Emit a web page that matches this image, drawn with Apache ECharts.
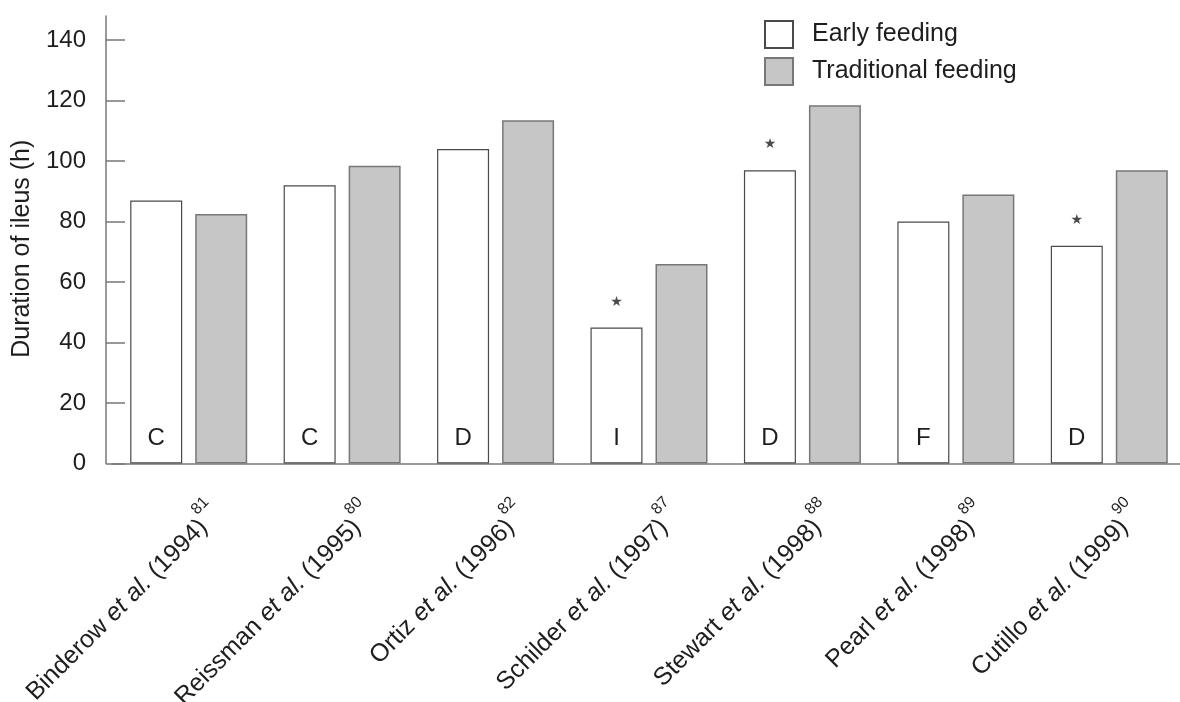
<!DOCTYPE html>
<html>
<head>
<meta charset="utf-8">
<script src="https://cdn.jsdelivr.net/npm/echarts@6/dist/echarts.min.js"></script>
<style>html,body{margin:0;padding:0;background:#fff;}#c{width:1180px;height:702px;}</style>
</head>
<body>
<div id="c"></div>
<script>
var authors = ['Binderow', 'Reissman', 'Ortiz', 'Schilder', 'Stewart', 'Pearl', 'Cutillo'];
var years = ['1994', '1995', '1996', '1997', '1998', '1998', '1999'];
var refs = ['81', '80', '82', '87', '88', '89', '90'];
var earlyFeeding = [87, 92, 104, 45, 97, 80, 72];
var traditionalFeeding = [82.5, 98.5, 113.5, 66, 118.5, 89, 97];
var studyType = ['C', 'C', 'D', 'I', 'D', 'F', 'D'];
var significant = [false, false, false, true, true, false, true];
var yTicks = [0, 20, 40, 60, 80, 100, 120, 140];
var seriesNames = ['Early feeding', 'Traditional feeding'];
var yAxisTitle = 'Duration of ileus (h)';

var FONT = '"Liberation Sans", Arial, Helvetica, sans-serif';
var TXT = '#1e1e1e';
var categories = authors.map(function (a, i) { return a + ' (' + years[i] + ')'; });

var starData = [];
significant.forEach(function (s, i) { if (s) starData.push([i, earlyFeeding[i]]); });

var chart = echarts.init(document.getElementById('c'), null, { renderer: 'canvas' });
chart.setOption({
  animation: false,
  backgroundColor: '#fff',
  grid: { left: 112, top: 16, width: 1074, bottom: 238.5, containLabel: false, outerBoundsMode: 'none' },
  legend: {
    data: seriesNames,
    icon: 'rect',
    orient: 'vertical',
    left: 764, top: 20, padding: 0,
    itemWidth: 28, itemHeight: 27, itemGap: 8,
    textStyle: { fontFamily: FONT, fontSize: 25, color: TXT, padding: [0, 0, 0, 14] }
  },
  xAxis: {
    type: 'category',
    data: categories,
    axisLine: { lineStyle: { color: '#777', width: 1.5 } },
    axisTick: { show: false },
    axisLabel: {
      interval: 0, rotate: 45, margin: 75, padding: [0, -40, 0, 0],
      fontFamily: FONT, fontSize: 25, color: TXT, lineHeight: 46,
      formatter: function (v, i) {
        return authors[i] + ' {i|et al.} (' + years[i] + '){sup|' + refs[i] + '}';
      },
      rich: {
        i: { fontFamily: FONT, fontSize: 25, color: TXT, fontStyle: 'italic' },
        sup: { fontFamily: FONT, fontSize: 16, color: TXT, verticalAlign: 'top', lineHeight: 16, padding: [0, 0, 0, 1] }
      }
    }
  },
  yAxis: {
    type: 'value',
    min: 0, max: 148, interval: 20,
    offset: 6,
    name: yAxisTitle,
    nameLocation: 'middle',
    nameGap: 68,
    nameTextStyle: { fontFamily: FONT, fontSize: 25, color: TXT, padding: [0, 18, 0, 0] },
    splitLine: { show: false },
    axisLine: { show: true, lineStyle: { color: '#777', width: 1.5 } },
    axisTick: { show: true, inside: true, length: 19, lineStyle: { color: '#777', width: 1.5 }, customValues: yTicks },
    axisLabel: { fontFamily: FONT, fontSize: 24, color: TXT, margin: 20, customValues: yTicks }
  },
  series: [
    {
      name: seriesNames[0],
      type: 'bar',
      data: earlyFeeding,
      barWidth: 52,
      barGap: '25%',
      itemStyle: { color: '#ffffff', borderColor: '#4a4a4a', borderWidth: 1.2 },
      label: {
        show: true, position: 'insideBottom', distance: 13,
        fontFamily: FONT, fontSize: 24, color: TXT,
        formatter: function (p) { return studyType[p.dataIndex]; }
      }
    },
    {
      name: seriesNames[1],
      type: 'bar',
      data: traditionalFeeding,
      barWidth: 52,
      itemStyle: { color: '#c6c6c6', borderColor: '#777777', borderWidth: 1.5 }
    },
    {
      type: 'scatter',
      data: starData,
      symbol: 'circle',
      symbolSize: 1,
      itemStyle: { color: 'rgba(0,0,0,0)' },
      silent: true,
      label: {
        show: true, position: 'top', distance: 18, offset: [-32.5, 0],
        formatter: '\u2605', fontFamily: '"DejaVu Sans", sans-serif', fontSize: 14, color: TXT
      }
    }
  ]
});
</script>
</body>
</html>
